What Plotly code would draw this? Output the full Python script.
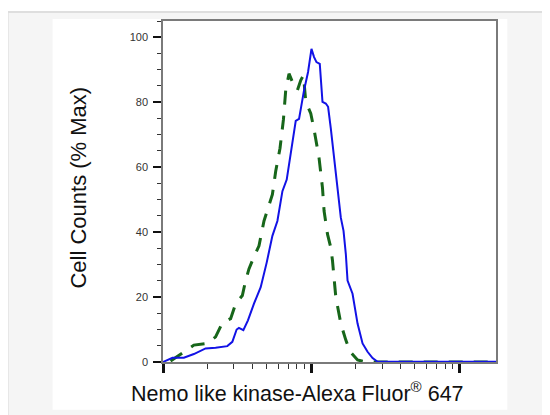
import plotly.graph_objects as go

# ---- data (intensity on log axis, % of max) ----
blue_x = [100, 115.9, 138.2, 161.5, 193.7, 226.3, 271.5, 293.5, 313.8, 325.2, 348.3,
          374.1, 410.8, 456.0, 500.4, 546.9, 591.0, 638.9, 683.2, 727.0, 765.3, 785.8,
          827.2, 894.2, 951.5, 1003.2, 1044.5, 1084.2, 1141.3, 1190.5, 1253.1, 1298.6,
          1354.5, 1426.0, 1503.4, 1582.5, 1650.5, 1710.6, 1756.5, 1898.5, 2052.0, 2218.0,
          2397.0, 2591.0, 2802.0, 4000.0, 8000.0, 17700.0]
blue_y = [0, 1.31, 1.31, 2.45, 4.19, 4.37, 4.89, 6.21, 10.0, 10.49, 9.79,
          12.84, 17.95, 23.03, 30.6, 38.84, 43.43, 52.6, 56.18, 63.82, 71.56, 74.22,
          74.83, 83.70, 89.30, 96.42, 93.88, 92.35, 91.83, 80.12, 79.6, 78.59,
          71.96, 62.78, 53.61, 44.43, 40.37, 33.24, 25.08, 21.01, 11.83, 5.72,
          3.15, 1.22, 0.09, 0.05, 0.1, 0.1]

green_x = [112.4, 138.2, 161.5, 198.9, 226.3, 251.2, 285.8, 309.0, 342.9, 360.9, 380.0,
           410.8, 444.1, 479.9, 546.9, 575.6, 615.5, 648.9, 672.5, 707.9, 746.5, 806.9,
           849.4, 886.0, 918.2, 992.2, 1044.5, 1128.9, 1190.5, 1220.5, 1286.8, 1354.5,
           1390.5, 1464.0, 1582.5, 1710.6, 1829.0, 2052.0, 2334.0, 5000.0, 17700.0]
green_y = [0.3, 3.15, 5.20, 5.72, 7.74, 12.02, 13.36, 17.95, 20.49, 25.08, 28.65,
           32.42, 35.78, 43.43, 51.59, 58.72, 65.84, 74.62, 83.70, 88.78, 86.24, 83.70,
           86.76, 88.29, 80.12, 76.54, 71.56, 62.78, 53.61, 46.48, 39.36, 35.26,
           31.19, 19.97, 11.83, 6.73, 3.15, 0.61, 0, 0, 0]

y_ticks = [0, 20, 40, 60, 80, 100]
x_major = [100, 1000, 10000]
x_minor = [m * d for d in (100, 1000) for m in range(2, 10)]

x_title = "Nemo like kinase-Alexa Fluor<sup>®</sup> 647"
y_title = "Cell Counts (% Max)"

# ---- layout geometry (page pixels; the page has an 8px body margin) ----
OFF = 8
W, H = 550 - OFF, 415 - OFF
L, R, T, B = 162.5 - OFF, 495.7 - OFF, 19 - OFF, 362 - OFF


def px(x):
    return (x - OFF - L) / (R - L)


def py(y):
    return (B - (y - OFF)) / (B - T)


fig = go.Figure()
fig.add_trace(go.Scatter(x=green_x, y=green_y, mode="lines",
                         line=dict(color="#17661a", width=3, dash="14px,11px"),
                         hoverinfo="skip"))
fig.add_trace(go.Scatter(x=blue_x, y=blue_y, mode="lines",
                         line=dict(color="#1212e6", width=2),
                         hoverinfo="skip"))

fig.update_layout(
    width=W, height=H,
    margin=dict(l=L, r=W - R, t=T, b=H - B, pad=0),
    paper_bgcolor="white",
    plot_bgcolor="rgba(0,0,0,0)",
    showlegend=False,
    font=dict(family="Liberation Sans, Arial, sans-serif", color="#111"),
    xaxis=dict(
        type="log", range=[2, 4.246], showgrid=False, zeroline=False,
        showline=True, linecolor="#7a7a7a", linewidth=1.5, mirror=True,
        tickmode="array", tickvals=x_major, showticklabels=False,
        ticks="outside", ticklen=9, tickwidth=2.5, tickcolor="#111",
        minor=dict(tickmode="array", tickvals=x_minor, ticks="outside",
                   ticklen=5, tickwidth=1.2, tickcolor="#333"),
    ),
    yaxis=dict(
        range=[0, 105], showgrid=False, zeroline=False,
        showline=True, linecolor="#7a7a7a", linewidth=1.5, mirror=True,
        tickmode="array", tickvals=y_ticks,
        ticks="outside", ticklen=8, tickwidth=2.2, tickcolor="#111",
        tickfont=dict(family="Liberation Sans, Arial, sans-serif",
                      size=11, color="#333"),
        ticklabelstandoff=3,
        minor=dict(dtick=5, ticks="outside", ticklen=4, tickwidth=1.2, tickcolor="#333"),
    ),
    shapes=[
        dict(type="rect", xref="paper", yref="paper", layer="below",
             x0=px(7), x1=px(553), y0=py(418), y1=py(10),
             fillcolor="#f5f5f5", line=dict(color="#dedede", width=2)),
        dict(type="rect", xref="paper", yref="paper", layer="below",
             x0=px(52), x1=px(507), y0=py(410), y1=py(17),
             fillcolor="white", line=dict(width=0)),
    ],
    annotations=[
        dict(text=x_title, xref="paper", yref="paper", x=px(297), y=py(392),
             xanchor="center", yanchor="middle", showarrow=False,
             font=dict(size=21.5, color="#111")),
        dict(text=y_title, xref="paper", yref="paper", x=px(77), y=py(187),
             xanchor="center", yanchor="middle", showarrow=False, textangle=-90,
             font=dict(size=22, color="#111")),
    ],
)

fig.write_html("out.html")
